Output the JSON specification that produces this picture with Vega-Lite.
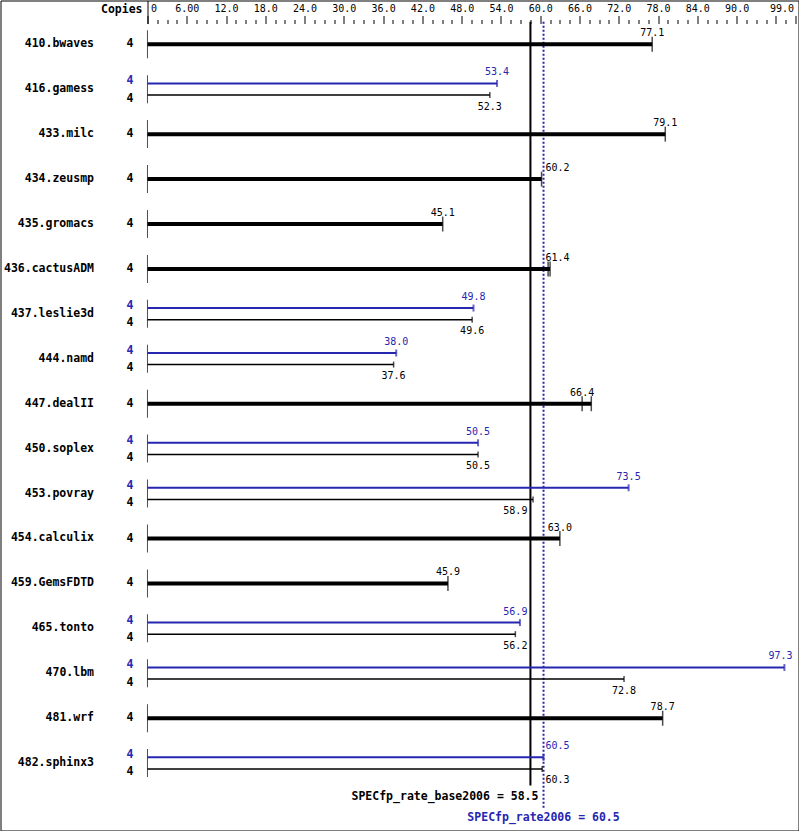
{
  "$schema": "https://vega.github.io/schema/vega-lite/v6.json",
  "width": 798,
  "height": 830,
  "padding": {"left": 0.5, "top": 0.5, "right": 0, "bottom": 0},
  "autosize": {"type": "none"},
  "background": "white",
  "config": {"view": {"stroke": "black", "strokeWidth": 1}, "font": "DejaVu Sans Mono"},
  "resolve": {"axis": {"x": "independent"}},
  "datasets": {
    "bars": [
      {"benchmark": "410.bwaves", "kind": "both", "copies": 4, "value": 77.1, "end": 77.1},
      {"benchmark": "416.gamess", "kind": "peak", "copies": 4, "value": 53.4, "end": 53.4},
      {"benchmark": "416.gamess", "kind": "base", "copies": 4, "value": 52.3, "end": 52.3},
      {"benchmark": "433.milc", "kind": "both", "copies": 4, "value": 79.1, "end": 79.1},
      {"benchmark": "434.zeusmp", "kind": "both", "copies": 4, "value": 60.2, "end": 60.2},
      {"benchmark": "435.gromacs", "kind": "both", "copies": 4, "value": 45.1, "end": 45.1},
      {"benchmark": "436.cactusADM", "kind": "both", "copies": 4, "value": 61.4, "end": 61.5},
      {"benchmark": "437.leslie3d", "kind": "peak", "copies": 4, "value": 49.8, "end": 49.8},
      {"benchmark": "437.leslie3d", "kind": "base", "copies": 4, "value": 49.6, "end": 49.6},
      {"benchmark": "444.namd", "kind": "peak", "copies": 4, "value": 38.0, "end": 38.0},
      {"benchmark": "444.namd", "kind": "base", "copies": 4, "value": 37.6, "end": 37.6},
      {"benchmark": "447.dealII", "kind": "both", "copies": 4, "value": 66.4, "end": 67.8},
      {"benchmark": "450.soplex", "kind": "peak", "copies": 4, "value": 50.5, "end": 50.5},
      {"benchmark": "450.soplex", "kind": "base", "copies": 4, "value": 50.5, "end": 50.5},
      {"benchmark": "453.povray", "kind": "peak", "copies": 4, "value": 73.5, "end": 73.5},
      {"benchmark": "453.povray", "kind": "base", "copies": 4, "value": 58.9, "end": 58.9},
      {"benchmark": "454.calculix", "kind": "both", "copies": 4, "value": 63.0, "end": 63.0},
      {"benchmark": "459.GemsFDTD", "kind": "both", "copies": 4, "value": 45.9, "end": 45.9},
      {"benchmark": "465.tonto", "kind": "peak", "copies": 4, "value": 56.9, "end": 56.9},
      {"benchmark": "465.tonto", "kind": "base", "copies": 4, "value": 56.2, "end": 56.2},
      {"benchmark": "470.lbm", "kind": "peak", "copies": 4, "value": 97.3, "end": 97.3},
      {"benchmark": "470.lbm", "kind": "base", "copies": 4, "value": 72.8, "end": 72.8},
      {"benchmark": "481.wrf", "kind": "both", "copies": 4, "value": 78.7, "end": 78.7},
      {"benchmark": "482.sphinx3", "kind": "peak", "copies": 4, "value": 60.5, "end": 60.5},
      {"benchmark": "482.sphinx3", "kind": "base", "copies": 4, "value": 60.3, "end": 60.3}
    ],
    "runs": [
      {"benchmark": "410.bwaves", "kind": "both", "run": 77.1},
      {"benchmark": "416.gamess", "kind": "peak", "run": 53.4},
      {"benchmark": "416.gamess", "kind": "base", "run": 52.3},
      {"benchmark": "433.milc", "kind": "both", "run": 79.1},
      {"benchmark": "434.zeusmp", "kind": "both", "run": 60.2},
      {"benchmark": "435.gromacs", "kind": "both", "run": 45.1},
      {"benchmark": "436.cactusADM", "kind": "both", "run": 61.2},
      {"benchmark": "436.cactusADM", "kind": "both", "run": 61.5},
      {"benchmark": "437.leslie3d", "kind": "peak", "run": 49.8},
      {"benchmark": "437.leslie3d", "kind": "base", "run": 49.6},
      {"benchmark": "444.namd", "kind": "peak", "run": 38.0},
      {"benchmark": "444.namd", "kind": "base", "run": 37.6},
      {"benchmark": "447.dealII", "kind": "both", "run": 66.4},
      {"benchmark": "447.dealII", "kind": "both", "run": 67.8},
      {"benchmark": "450.soplex", "kind": "peak", "run": 50.5},
      {"benchmark": "450.soplex", "kind": "base", "run": 50.5},
      {"benchmark": "453.povray", "kind": "peak", "run": 73.5},
      {"benchmark": "453.povray", "kind": "base", "run": 58.9},
      {"benchmark": "454.calculix", "kind": "both", "run": 63.0},
      {"benchmark": "459.GemsFDTD", "kind": "both", "run": 45.9},
      {"benchmark": "465.tonto", "kind": "peak", "run": 56.9},
      {"benchmark": "465.tonto", "kind": "base", "run": 56.2},
      {"benchmark": "470.lbm", "kind": "peak", "run": 97.3},
      {"benchmark": "470.lbm", "kind": "base", "run": 72.8},
      {"benchmark": "481.wrf", "kind": "both", "run": 78.7},
      {"benchmark": "482.sphinx3", "kind": "peak", "run": 60.5},
      {"benchmark": "482.sphinx3", "kind": "base", "run": 60.3}
    ],
    "summary": [
      {"metric": "SPECfp_rate_base2006", "kind": "base", "score": 58.5, "label": "SPECfp_rate_base2006 = 58.5"},
      {"metric": "SPECfp_rate2006", "kind": "peak", "score": 60.5, "label": "SPECfp_rate2006 = 60.5"}
    ]
  },
  "layer": [
    {
      "data": {"name": "summary"},
      "transform": [{"filter": "datum.kind == 'base'"}],
      "mark": {"type": "rule", "color": "black", "strokeWidth": 2},
      "encoding": {
        "x": {
          "field": "score", "type": "quantitative",
          "scale": {"domain": [-22.45, 99.45], "nice": false, "zero": false},
          "axis": {
            "orient": "top", "offset": -23, "title": null, "domain": false, "grid": false,
            "values": [0,6,12,18,24,30,36,42,48,54,60,66,72,78,84,90,96,99],
            "tickColor": "black", "tickWidth": 1, "tickSize": 8,
            "labelExpr": "datum.value == 99 ? '99.0' : datum.value > 90 ? '' : datum.value == 0 ? '0' : datum.value < 10 ? format(datum.value, '.2f') : format(datum.value, '.1f')",
            "labelAlign": {"condition": [{"test": "datum.value == 0", "value": "left"}, {"test": "datum.value == 99", "value": "right"}], "value": "center"},
            "labelOffset": {"condition": [{"test": "datum.value == 0", "value": 3}, {"test": "datum.value == 99", "value": -2}], "value": 0},
            "labelFont": "DejaVu Sans Mono", "labelFontSize": 10, "labelColor": "black", "labelPadding": 2,
            "labelOverlap": false, "labelBound": false, "labelFlush": false
          }
        },
        "y": {
          "datum": "410.bwaves", "type": "nominal", "bandPosition": 0,
          "scale": {
            "type": "band",
            "domain": ["410.bwaves","416.gamess","433.milc","434.zeusmp","435.gromacs","436.cactusADM","437.leslie3d","444.namd","447.dealII","450.soplex","453.povray","454.calculix","459.GemsFDTD","465.tonto","470.lbm","481.wrf","482.sphinx3"," "],
            "range": [21.3, 830], "paddingInner": 0, "paddingOuter": 0
          },
          "axis": {
            "orient": "left", "offset": -97, "title": "Copies", "titleAngle": 0, "titleX": 3, "titleY": 9,
            "titleAlign": "left", "titleBaseline": "middle", "titleFont": "DejaVu Sans Mono", "titleFontSize": 11.5,
            "titleFontWeight": "bold", "titleColor": "black", "domain": false, "ticks": false, "grid": false,
            "labelPadding": 4, "labelFont": "DejaVu Sans Mono", "labelFontSize": 11.5, "labelFontWeight": "bold", "labelColor": "black"
          }
        },
        "y2": {"datum": " ", "bandPosition": 0}
      }
    },
    {
      "data": {"name": "summary"},
      "transform": [{"filter": "datum.kind == 'peak'"}],
      "mark": {"type": "rule", "color": "#2626b0", "strokeWidth": 2, "strokeDash": [2, 2]},
      "encoding": {
        "x": {
          "field": "score", "type": "quantitative",
          "axis": {
            "orient": "top", "offset": -23, "title": null, "domain": false, "grid": false, "labels": false,
            "values": [1.5,3,4.5,7.5,9,10.5,13.5,15,16.5,19.5,21,22.5,25.5,27,28.5,31.5,33,34.5,37.5,39,40.5,43.5,45,46.5,49.5,51,52.5,55.5,57,58.5,61.5,63,64.5,67.5,69,70.5,73.5,75,76.5,79.5,81,82.5,85.5,87,88.5,91.5,93,94.5,97.5],
            "tickColor": "black", "tickWidth": 1, "tickSize": 4
          }
        },
        "y": {"datum": "410.bwaves", "type": "nominal", "bandPosition": 0},
        "y2": {"datum": " ", "bandPosition": 0.5}
      }
    },
    {
      "data": {"name": "summary"},
      "transform": [{"filter": "datum.kind == 'base'"}],
      "mark": {"type": "text", "align": "right", "dx": 8, "dy": -11.5, "fontWeight": "bold", "fontSize": 11.5, "color": "black"},
      "encoding": {
        "x": {"field": "score", "type": "quantitative", "axis": null},
        "y": {"datum": " ", "type": "nominal"},
        "text": {"field": "label"}
      }
    },
    {
      "data": {"name": "summary"},
      "transform": [{"filter": "datum.kind == 'peak'"}],
      "mark": {"type": "text", "align": "center", "dy": 9.5, "fontWeight": "bold", "fontSize": 11.5, "color": "#2626b0"},
      "encoding": {
        "x": {"field": "score", "type": "quantitative", "axis": null},
        "y": {"datum": " ", "type": "nominal"},
        "text": {"field": "label"}
      }
    },
    {
      "data": {"name": "bars"},
      "transform": [{"filter": "datum.kind != 'base'"}],
      "mark": {"type": "tick", "color": "black", "thickness": 1, "size": 28},
      "encoding": {
        "x": {
          "datum": 0, "type": "quantitative",
          "axis": {
            "orient": "top", "offset": -23, "title": null, "domain": false, "grid": false, "labels": false,
            "values": [0], "tickColor": "black", "tickWidth": 1, "tickSize": 23
          }
        },
        "y": {"field": "benchmark", "type": "nominal"}
      }
    },
    {
      "data": {"name": "bars"},
      "transform": [{"filter": "datum.kind == 'both'"}],
      "mark": {"type": "rule", "color": "black", "strokeWidth": 4},
      "encoding": {
        "x": {"field": "end", "type": "quantitative", "axis": null},
        "x2": {"datum": 0},
        "y": {"field": "benchmark", "type": "nominal"},
        "yOffset": {"field": "kind", "type": "nominal", "scale": {"type": "point", "domain": ["peak", "both", "base"], "range": [16.7, 28.3], "padding": 0}}
      }
    },
    {
      "data": {"name": "bars"},
      "transform": [{"filter": "datum.kind == 'peak'"}],
      "mark": {"type": "rule", "color": "#2626b0", "strokeWidth": 2},
      "encoding": {
        "x": {"field": "end", "type": "quantitative", "axis": null},
        "x2": {"datum": 0},
        "y": {"field": "benchmark", "type": "nominal"},
        "yOffset": {"field": "kind", "type": "nominal"}
      }
    },
    {
      "data": {"name": "bars"},
      "transform": [{"filter": "datum.kind == 'base'"}],
      "mark": {"type": "rule", "color": "black", "strokeWidth": 1.5},
      "encoding": {
        "x": {"field": "end", "type": "quantitative", "axis": null},
        "x2": {"datum": 0},
        "y": {"field": "benchmark", "type": "nominal"},
        "yOffset": {"field": "kind", "type": "nominal"}
      }
    },
    {
      "data": {"name": "runs"},
      "transform": [{"filter": "datum.kind == 'both'"}],
      "mark": {"type": "tick", "color": "black", "thickness": 1.5, "size": 15},
      "encoding": {
        "x": {"field": "run", "type": "quantitative", "axis": null},
        "y": {"field": "benchmark", "type": "nominal"},
        "yOffset": {"field": "kind", "type": "nominal"}
      }
    },
    {
      "data": {"name": "runs"},
      "transform": [{"filter": "datum.kind == 'peak'"}],
      "mark": {"type": "tick", "color": "#2626b0", "thickness": 2, "size": 7},
      "encoding": {
        "x": {"field": "run", "type": "quantitative", "axis": null},
        "y": {"field": "benchmark", "type": "nominal"},
        "yOffset": {"field": "kind", "type": "nominal"}
      }
    },
    {
      "data": {"name": "runs"},
      "transform": [{"filter": "datum.kind == 'base'"}],
      "mark": {"type": "tick", "color": "black", "thickness": 1.5, "size": 6},
      "encoding": {
        "x": {"field": "run", "type": "quantitative", "axis": null},
        "y": {"field": "benchmark", "type": "nominal"},
        "yOffset": {"field": "kind", "type": "nominal"}
      }
    },
    {
      "data": {"name": "bars"},
      "transform": [{"filter": "datum.kind == 'both'"}],
      "mark": {"type": "text", "align": "right", "dx": -14, "fontWeight": "bold", "fontSize": 11.5, "color": "black"},
      "encoding": {
        "x": {"datum": 0, "type": "quantitative", "axis": null},
        "y": {"field": "benchmark", "type": "nominal"},
        "yOffset": {"field": "kind", "type": "nominal"},
        "text": {"field": "copies"}
      }
    },
    {
      "data": {"name": "bars"},
      "transform": [{"filter": "datum.kind == 'peak'"}],
      "mark": {"type": "text", "align": "right", "dx": -14, "dy": -2, "fontWeight": "bold", "fontSize": 11.5, "color": "#2626b0"},
      "encoding": {
        "x": {"datum": 0, "type": "quantitative", "axis": null},
        "y": {"field": "benchmark", "type": "nominal"},
        "yOffset": {"field": "kind", "type": "nominal"},
        "text": {"field": "copies"}
      }
    },
    {
      "data": {"name": "bars"},
      "transform": [{"filter": "datum.kind == 'base'"}],
      "mark": {"type": "text", "align": "right", "dx": -14, "dy": 3.5, "fontWeight": "bold", "fontSize": 11.5, "color": "black"},
      "encoding": {
        "x": {"datum": 0, "type": "quantitative", "axis": null},
        "y": {"field": "benchmark", "type": "nominal"},
        "yOffset": {"field": "kind", "type": "nominal"},
        "text": {"field": "copies"}
      }
    },
    {
      "data": {"name": "bars"},
      "transform": [{"filter": "datum.kind == 'both' && datum.benchmark != '434.zeusmp' && datum.benchmark != '436.cactusADM'"}],
      "mark": {"type": "text", "align": "center", "dy": -11, "fontSize": 10, "color": "black"},
      "encoding": {
        "x": {"field": "value", "type": "quantitative", "axis": null},
        "y": {"field": "benchmark", "type": "nominal"},
        "yOffset": {"field": "kind", "type": "nominal"},
        "text": {"field": "value", "format": ".1f"}
      }
    },
    {
      "data": {"name": "bars"},
      "transform": [{"filter": "datum.kind == 'peak' && datum.benchmark != '482.sphinx3' && datum.benchmark != '465.tonto' && datum.benchmark != '470.lbm'"}],
      "mark": {"type": "text", "align": "center", "dy": -11, "fontSize": 10, "color": "#2626b0"},
      "encoding": {
        "x": {"field": "value", "type": "quantitative", "axis": null},
        "y": {"field": "benchmark", "type": "nominal"},
        "yOffset": {"field": "kind", "type": "nominal"},
        "text": {"field": "value", "format": ".1f"}
      }
    },
    {
      "data": {"name": "bars"},
      "transform": [{"filter": "datum.kind == 'base' && datum.benchmark != '482.sphinx3' && datum.benchmark != '453.povray'"}],
      "mark": {"type": "text", "align": "center", "dy": 11.5, "fontSize": 10, "color": "black"},
      "encoding": {
        "x": {"field": "value", "type": "quantitative", "axis": null},
        "y": {"field": "benchmark", "type": "nominal"},
        "yOffset": {"field": "kind", "type": "nominal"},
        "text": {"field": "value", "format": ".1f"}
      }
    },
    {
      "data": {"name": "bars"},
      "transform": [{"filter": "datum.kind == 'both' && (datum.benchmark == '434.zeusmp' || datum.benchmark == '436.cactusADM')"}],
      "mark": {"type": "text", "align": "left", "dx": 2, "dy": -11, "fontSize": 10, "color": "black"},
      "encoding": {
        "x": {"datum": 60.5, "type": "quantitative", "axis": null},
        "y": {"field": "benchmark", "type": "nominal"},
        "yOffset": {"field": "kind", "type": "nominal"},
        "text": {"field": "value", "format": ".1f"}
      }
    },
    {
      "data": {"name": "bars"},
      "transform": [{"filter": "datum.kind == 'peak' && datum.benchmark == '482.sphinx3'"}],
      "mark": {"type": "text", "align": "left", "dx": 2, "dy": -11, "fontSize": 10, "color": "#2626b0"},
      "encoding": {
        "x": {"datum": 60.5, "type": "quantitative", "axis": null},
        "y": {"field": "benchmark", "type": "nominal"},
        "yOffset": {"field": "kind", "type": "nominal"},
        "text": {"field": "value", "format": ".1f"}
      }
    },
    {
      "data": {"name": "bars"},
      "transform": [{"filter": "datum.kind == 'base' && datum.benchmark == '482.sphinx3'"}],
      "mark": {"type": "text", "align": "left", "dx": 2, "dy": 11.5, "fontSize": 10, "color": "black"},
      "encoding": {
        "x": {"datum": 60.5, "type": "quantitative", "axis": null},
        "y": {"field": "benchmark", "type": "nominal"},
        "yOffset": {"field": "kind", "type": "nominal"},
        "text": {"field": "value", "format": ".1f"}
      }
    },
    {
      "data": {"name": "bars"},
      "transform": [{"filter": "datum.kind == 'base' && datum.benchmark == '453.povray'"}],
      "mark": {"type": "text", "align": "right", "dx": -3, "dy": 11.5, "fontSize": 10, "color": "black"},
      "encoding": {
        "x": {"datum": 58.5, "type": "quantitative", "axis": null},
        "y": {"field": "benchmark", "type": "nominal"},
        "yOffset": {"field": "kind", "type": "nominal"},
        "text": {"field": "value", "format": ".1f"}
      }
    },
    {
      "data": {"name": "bars"},
      "transform": [{"filter": "datum.kind == 'peak' && datum.benchmark == '465.tonto'"}],
      "mark": {"type": "text", "align": "right", "dx": -3, "dy": -11, "fontSize": 10, "color": "#2626b0"},
      "encoding": {
        "x": {"datum": 58.5, "type": "quantitative", "axis": null},
        "y": {"field": "benchmark", "type": "nominal"},
        "yOffset": {"field": "kind", "type": "nominal"},
        "text": {"field": "value", "format": ".1f"}
      }
    },
    {
      "data": {"name": "bars"},
      "transform": [{"filter": "datum.kind == 'peak' && datum.benchmark == '470.lbm'"}],
      "mark": {"type": "text", "align": "right", "dx": -3, "dy": -11, "fontSize": 10, "color": "#2626b0"},
      "encoding": {
        "x": {"datum": 99, "type": "quantitative", "axis": null},
        "y": {"field": "benchmark", "type": "nominal"},
        "yOffset": {"field": "kind", "type": "nominal"},
        "text": {"field": "value", "format": ".1f"}
      }
    }
  ]
}
